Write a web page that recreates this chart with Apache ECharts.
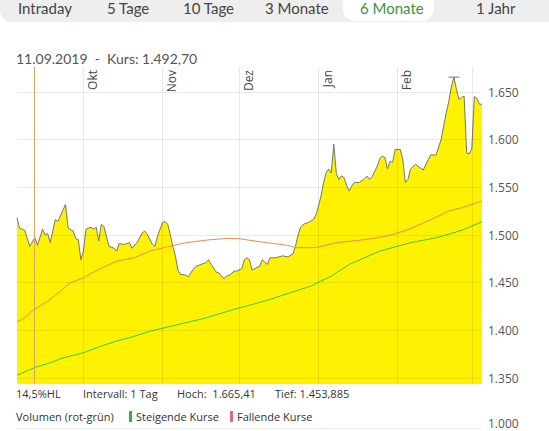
<!DOCTYPE html>
<html>
<head>
<meta charset="utf-8">
<script src="https://cdn.jsdelivr.net/npm/echarts/dist/echarts.min.js"></script>
<style>
  html, body { margin:0; padding:0; width:549px; height:431px; overflow:hidden; background:#fff; }
  #chart { position:absolute; left:0; top:0; width:549px; height:431px; }
  .abs { position:absolute; white-space:nowrap; }
  #tabs { position:absolute; left:0; top:-10px; width:560px; height:32px; background:#eeeeee; border-bottom-left-radius:12px; }
  #pill { position:absolute; left:343px; top:-10px; width:91px; height:31px; background:#fff; border-radius:12px; }
  .tab { position:absolute; top:0; font-family:Lato, sans-serif; font-size:15px; line-height:16px; color:#444; }
  .info { font-family:"Open Sans", sans-serif; font-size:11px; line-height:14px; color:#333; }
</style>
</head>
<body>
<div id="chart"></div>
<div id="tabs"></div>
<div id="pill"></div>
<div class="tab" style="left:18px">Intraday</div>
<div class="tab" style="left:107px">5 Tage</div>
<div class="tab" style="left:183px">10 Tage</div>
<div class="tab" style="left:265px">3 Monate</div>
<div class="tab" style="left:360px;color:#3f9140">6 Monate</div>
<div class="tab" style="left:476px">1 Jahr</div>
<div class="abs" style="left:16px;top:51px;font-family:Lato, sans-serif;font-size:14px;line-height:16px;color:#555">11.09.2019&nbsp;&nbsp;-&nbsp;&nbsp;Kurs: 1.492,70</div>
<div class="abs info" style="left:16px;top:387px">14,5%HL</div>
<div class="abs info" style="left:83px;top:387px">Intervall: 1 Tag</div>
<div class="abs info" style="left:177px;top:387px">Hoch:&nbsp; 1.665,41</div>
<div class="abs info" style="left:275px;top:387px">Tief: 1.453,885</div>
<div class="abs info" style="left:16px;top:410px">Volumen (rot-grün)</div>
<div class="abs" style="left:129px;top:411px;width:3px;height:11px;background:#2fb52f"></div>
<div class="abs info" style="left:136px;top:410px">Steigende Kurse</div>
<div class="abs" style="left:230px;top:411px;width:3px;height:11px;background:#e06a78"></div>
<div class="abs info" style="left:237px;top:410px">Fallende Kurse</div>
<div class="abs" style="left:17px;top:428px;width:465px;height:1px;background:#eeeeee"></div>
<div class="abs info" style="left:488px;top:417px;color:#555;font-size:12px">1.000</div>
<script>
// ---- data ----
const priceDates = [
 '2019-09-05','2019-09-06','2019-09-08','2019-09-10','2019-09-11','2019-09-12','2019-09-13','2019-09-15','2019-09-16','2019-09-17',
 '2019-09-18','2019-09-20','2019-09-21','2019-09-24','2019-09-25','2019-09-27','2019-09-28','2019-09-29','2019-09-30',
 '2019-10-01','2019-10-02','2019-10-04','2019-10-05','2019-10-06','2019-10-07','2019-10-08','2019-10-09','2019-10-11','2019-10-13',
 '2019-10-14','2019-10-15','2019-10-17','2019-10-19','2019-10-20','2019-10-22','2019-10-24','2019-10-25','2019-10-26','2019-10-28',
 '2019-10-29','2019-10-30',
 '2019-11-01','2019-11-02','2019-11-03','2019-11-04','2019-11-05','2019-11-06','2019-11-07','2019-11-08','2019-11-10','2019-11-11',
 '2019-11-13','2019-11-14','2019-11-16','2019-11-18','2019-11-19','2019-11-20','2019-11-22','2019-11-23','2019-11-25','2019-11-26',
 '2019-11-27','2019-11-29','2019-11-30',
 '2019-12-02','2019-12-03','2019-12-04','2019-12-05','2019-12-06','2019-12-08','2019-12-09','2019-12-10','2019-12-12','2019-12-13',
 '2019-12-15','2019-12-18','2019-12-20','2019-12-22','2019-12-23','2019-12-24','2019-12-25','2019-12-26','2019-12-28','2019-12-30',
 '2019-12-31',
 '2020-01-01','2020-01-02','2020-01-03','2020-01-04','2020-01-05','2020-01-06','2020-01-07','2020-01-08','2020-01-09','2020-01-10',
 '2020-01-11','2020-01-12','2020-01-13','2020-01-14','2020-01-15','2020-01-17','2020-01-19','2020-01-20','2020-01-21','2020-01-22',
 '2020-01-24','2020-01-25','2020-01-26','2020-01-27','2020-01-28','2020-01-29','2020-01-30','2020-01-31',
 '2020-02-02','2020-02-03','2020-02-04','2020-02-05','2020-02-06','2020-02-08','2020-02-10','2020-02-11','2020-02-13','2020-02-14',
 '2020-02-16','2020-02-18','2020-02-19','2020-02-20','2020-02-21','2020-02-22','2020-02-23','2020-02-24','2020-02-25','2020-02-26',
 '2020-02-27','2020-02-28','2020-02-29',
 '2020-03-01','2020-03-02','2020-03-03','2020-03-04','2020-03-05'
];
const priceValues = [
 1518,1507,1505,1488,1492.7,1497,1489,1506,1500,1501.5,
 1492,1516,1514,1532,1507,1504,1496,1495,1474,
 1483,1506,1508,1506,1508,1493.5,1511,1509,1488,1486,
 1483,1491,1490,1492,1486,1492,1502,1504,1500.5,1490,
 1488,1499,
 1513,1514,1511,1500,1488,1478,1463,1458.6,1458,1456,
 1464,1467,1469,1471,1474,1469,1461,1460,1453.9,1457,
 1457.5,1462,1462,
 1464.6,1474,1476,1474,1463,1466,1467,1474,1469,1476,
 1476,1478,1477,1480,1488,1500,1508,1511,1513,1516,
 1521,
 1530,1541,1555,1565,1569,1565,1595,1564,1558,1562,
 1560,1552,1546,1551,1555,1555,1559,1561.6,1558,1561,
 1572,1580,1582.6,1581,1569,1577,1576,1589.6,
 1589.6,1579,1555,1558,1569,1574,1570,1568,1579,1584,
 1583.6,1600,1614,1628,1640,1655,1665.41,1652.5,1642,1644,
 1645.5,1586,1585,
 1590,1645,1643,1637,1637
];
const maOrangeDates = ['2019-09-05','2019-09-08','2019-09-11','2019-09-17','2019-09-22','2019-09-26','2019-10-01','2019-10-07','2019-10-14','2019-10-21',
 '2019-10-27','2019-11-03','2019-11-10','2019-11-18','2019-11-26','2019-12-01','2019-12-06','2019-12-12','2019-12-20','2019-12-23',
 '2019-12-31','2020-01-08','2020-01-20','2020-01-29','2020-02-05','2020-02-14','2020-02-21','2020-02-28','2020-03-05'];
const maOrangeValues = [1408.6,1413,1420.5,1430.6,1441,1450,1455,1464,1472.5,1476,
 1483,1487.6,1491.8,1494.5,1496.3,1496,1494,1491.8,1489,1486.6,
 1486.6,1491.8,1495.3,1499.5,1505.5,1516,1525,1530,1535.4];
const maGreenDates = ['2019-09-05','2019-09-12','2019-09-18','2019-09-23','2019-10-01','2019-10-08','2019-10-14','2019-10-20','2019-10-27','2019-11-07',
 '2019-11-18','2019-11-29','2019-12-06','2019-12-13','2019-12-21','2019-12-29','2020-01-06','2020-01-13','2020-01-25','2020-02-06',
 '2020-02-16','2020-02-23','2020-02-27','2020-03-05'];
const maGreenValues = [1352.8,1361,1366,1371,1376.5,1383.5,1388.7,1393,1399,1406,
 1413,1422,1427,1432.4,1439.4,1446.3,1456.8,1469,1483,1491.8,
 1497,1502.3,1505.8,1513.8];
const monthStarts = ['2019-10-01','2019-11-01','2019-12-01','2020-01-01','2020-02-01','2020-03-01'];
const monthLabels = ['Okt','Nov','Dez','Jan','Feb',''];
const yTicks = [1350,1400,1450,1500,1550,1600,1650];
const hoverDate = '2019-09-11T18:00:00';
const highDate = '2020-02-23', highValue = 1665.41;

const zip = (a, b) => a.map((d, i) => [d, b[i]]);
const fmt = v => String(v).replace(/\B(?=(\d{3})+(?!\d))/g, '.');

const chart = echarts.init(document.getElementById('chart'), null, {renderer: 'svg'});
chart.setOption({
  animation: false,
  grid: [
    {left: 17, right: 67, top: 67, bottom: 47},
    {left: 17, right: 67, top: 92, height: 286}
  ],
  xAxis: [
    {type: 'time', gridIndex: 0, min: '2019-09-05', max: '2020-03-05', show: false},
    {type: 'value', gridIndex: 1, show: false}
  ],
  yAxis: [
    {type: 'value', gridIndex: 0, min: 1343.7, max: 1676, show: false},
    {type: 'value', gridIndex: 1, min: yTicks[0], max: yTicks[yTicks.length-1], interval: 50, position: 'right', z: 5,
     axisLine: {show: false}, axisTick: {show: false},
     splitLine: {show: true, lineStyle: {color: 'rgba(0,0,0,0.08)', width: 1}},
     axisLabel: {color: '#555', fontSize: 12, fontFamily: 'Open Sans', margin: 6, formatter: fmt}}
  ],
  series: [
    {
      type: 'line', xAxisIndex: 0, yAxisIndex: 0, data: zip(priceDates, priceValues),
      symbol: 'none', z: 2,
      lineStyle: {color: '#777766', width: 1},
      areaStyle: {color: '#fff200', opacity: 1},
      markLine: {
        silent: true, symbol: 'none', animation: false,
        data: monthStarts.map((d, i) => ({
          xAxis: d,
          lineStyle: {color: 'rgba(0,0,0,0.09)', width: 1, type: 'solid'},
          label: {show: !!monthLabels[i], formatter: monthLabels[i], position: 'insideEndBottom',
                  color: '#444', fontSize: 12, fontFamily: 'Open Sans', distance: 3}
        })).concat([{
          xAxis: hoverDate,
          lineStyle: {color: '#d9a65e', width: 1, type: 'solid'},
          label: {show: false}
        }])
      },
      markPoint: {
        silent: true, animation: false,
        data: [{coord: [highDate, highValue], symbol: 'rect', symbolSize: [11, 1],
                itemStyle: {color: '#777766'}, label: {show: false}}]
      }
    },
    {
      type: 'line', xAxisIndex: 0, yAxisIndex: 0, data: zip(maOrangeDates, maOrangeValues),
      symbol: 'none', z: 3, lineStyle: {color: '#ee8850', width: 1}
    },
    {
      type: 'line', xAxisIndex: 0, yAxisIndex: 0, data: zip(maGreenDates, maGreenValues),
      symbol: 'none', z: 3, lineStyle: {color: '#3cc828', width: 1}
    }
  ]
});
</script>
</body>
</html>
